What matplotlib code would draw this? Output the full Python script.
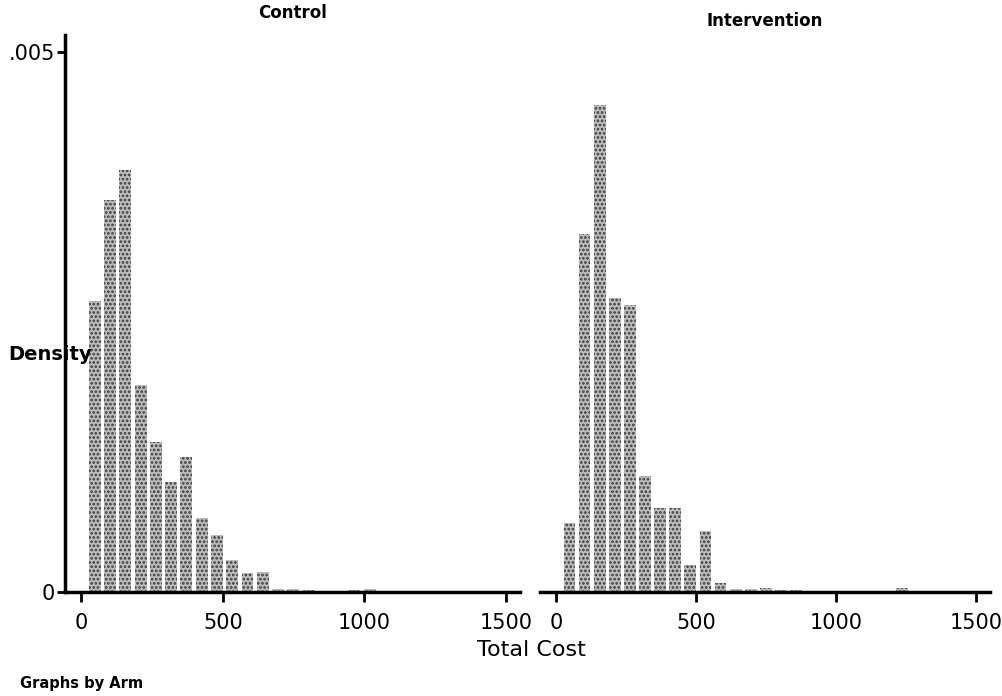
import numpy as np
import matplotlib
matplotlib.use("Agg")
import matplotlib.pyplot as plt

# histogram bins shared by both arms (Total Cost)
bin_start = 20
bin_width = 54

# densities, one per bin
control_density = [0.0027, 0.00363, 0.00391, 0.00192, 0.00139, 0.00102, 0.00125,
                   0.00069, 0.00053, 0.0003, 0.00018, 0.00019, 0.00003, 0.00003,
                   0.00002, 0.0, 0.0, 0.00002, 0.00003, 0.0, 0.0, 0.0, 0.0]
intervention_density = [0.00064, 0.00332, 0.00451, 0.00272, 0.00266, 0.00108,
                        0.00078, 0.00078, 0.00025, 0.00057, 0.00009, 0.00003,
                        0.00003, 0.00004, 0.00002, 0.00002, 0.0, 0.0, 0.0, 0.0,
                        0.0, 0.0, 0.00004]

panels = ["Control", "Intervention"]
x_ticks = [0, 500, 1000, 1500]
y_ticks = [0, 0.005]
y_ticklabels = ["0", ".005"]

plt.rcParams['font.family'] = ['DejaVu Sans']
plt.rcParams['hatch.linewidth'] = 1.3

fig = plt.figure(figsize=(10.02, 6.96), dpi=100)
ax_l = fig.add_axes([0.0649, 0.149, 0.454, 0.801])
ax_r = fig.add_axes([0.539, 0.149, 0.449, 0.801])

for ax, name, dens in zip([ax_l, ax_r], panels, [control_density, intervention_density]):
    centers = bin_start + bin_width * (np.arange(len(dens)) + 0.5)
    ax.bar(centers, dens, width=bin_width * 0.78, color="#bcbcbc",
           hatch="....", edgecolor="#3a3a3a", linewidth=0)
    ax.set_xlim(-58, 1550)
    ax.set_ylim(0, 0.00516)
    ax.set_xticks(x_ticks)
    ax.set_xticklabels([str(t) for t in x_ticks], fontsize=15)
    ax.tick_params(axis="x", direction="out", length=7, width=2, pad=8)
    for s in ["top", "right"]:
        ax.spines[s].set_visible(False)
    ax.spines["bottom"].set_linewidth(2.5)

ax_l.set_title("Control", fontsize=12, fontweight="bold", pad=12)
ax_r.set_title("Intervention", fontsize=12, fontweight="bold", pad=6)

ax_l.spines["left"].set_linewidth(2.5)
ax_l.set_yticks(y_ticks)
ax_l.set_yticklabels(y_ticklabels, fontsize=15)
ax_l.tick_params(axis="y", direction="out", length=6, width=2, pad=1)

ax_r.spines["left"].set_visible(False)
ax_r.set_yticks([])

fig.text(0.008, 0.49, "Density", fontsize=14, fontweight="bold", va="center", ha="left")
fig.text(0.53, 0.066, "Total Cost", fontsize=16, ha="center", va="center")
fig.text(0.02, 0.018, "Graphs by Arm", fontsize=10.5, fontweight="bold", ha="left", va="center")

fig.savefig("out.png", dpi=100, facecolor="white")
